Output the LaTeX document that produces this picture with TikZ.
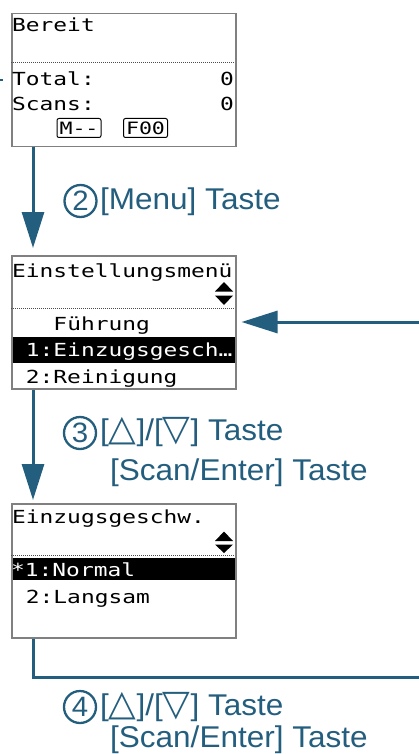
\documentclass[tikz,border=0pt]{standalone}
\usepackage{fontspec}
\setmainfont{Liberation Sans}[FakeStretch=1.05]
\newfontfamily\lcd[FakeStretch=1.27]{DejaVu Sans Mono}
\newfontfamily\symf{DejaVu Sans}
\usetikzlibrary{arrows.meta}
\definecolor{fblue}{RGB}{36,94,126}
\definecolor{lcdgray}{RGB}{128,128,128}
\newcommand{\trisym}[1]{{\symf\fontsize{36}{36}\selectfont #1}}
\begin{document}
\begin{tikzpicture}[x=1pt,y=-1pt,
  lcdbox/.style={rectangle, draw=lcdgray, line width=1.5pt, minimum width=224pt, anchor=north west, inner sep=0pt},
  lcdtxt/.style={anchor=base west, inner sep=0pt, font=\lcd\fontsize{18}{18}\selectfont},
  lcdinv/.style={lcdtxt, text=white},
  btn/.style={rectangle, rounded corners=2pt, draw=black, line width=1pt, minimum width=44pt, minimum height=19pt, inner sep=0pt, font=\lcd\fontsize{17}{17}\selectfont},
  dotsep/.style={draw=black!70, line width=1pt, dash pattern=on 1pt off 1pt},
  conn/.style={draw=fblue, line width=3pt},
  tip/.style={-{Triangle[length=36pt,width=22pt]}},
  circ/.style={circle, draw=fblue, line width=2.3pt, minimum size=32pt, inner sep=0pt, text=fblue, font=\fontsize{28}{28}\selectfont},
  lbl/.style={anchor=base west, inner sep=0pt, text=fblue, font=\fontsize{30}{30}\selectfont}
]
\useasboundingbox (0,0) rectangle (419,754);

% highlight bars
\fill[black] (11,337) rectangle (235,363);
\fill[black] (11,558) rectangle (235,580);

% LCD boxes
\node[lcdbox, minimum height=133pt] (b1) at (11,13) {};
\node[lcdbox, minimum height=133pt] (b2) at (11,255) {};
\node[lcdbox, minimum height=134pt] (b3) at (11,503) {};

% box 1
\node[lcdtxt] (t1a) at (12,32) {Bereit};
\draw[dotsep] (11,63) -- (235,63);
\node[lcdtxt] (t1b) at (12,86) {Total:};
\node[lcdtxt, anchor=base east] (t1c) at (234,86) {0};
\node[lcdtxt] (t1d) at (12,111) {Scans:};
\node[lcdtxt, anchor=base east] (t1e) at (234,111) {0};
\node[btn] (bm) at (79,128) {M-{}-{}};
\node[btn] (bf) at (145.5,128) {F00};

% box 2
\node[lcdtxt] (t2a) at (12,277) {Einstellungsmenü};
\fill (215,291.5) -- (233,291.5) -- (224,282) -- cycle;
\fill (215,295.5) -- (233,295.5) -- (224,305) -- cycle;
\draw[dotsep] (11,308) -- (235,308);
\node[lcdtxt] (t2b) at (12,330) {~~~Führung};
\node[lcdinv] (t2c) at (12,356) {~1:Einzugsgesch…};
\node[lcdtxt] (t2d) at (12,383) {~2:Reinigung};

% box 3
\node[lcdtxt] (t3a) at (12,523) {Einzugsgeschw.};
\fill (215,541) -- (233,541) -- (224,531.5) -- cycle;
\fill (215,544.5) -- (233,544.5) -- (224,553) -- cycle;
\draw[dotsep] (11,555) -- (235,555);
\node[lcdinv] (t3b) at (11,576) {*1:Normal};
\node[lcdtxt] (t3c) at (12,603) {~2:Langsam};

% connectors
\coordinate (stubA) at (0,80);
\coordinate (stubB) at (3,80);
\draw[fblue, line width=2pt] (stubA) -- (stubB);
\draw[conn, tip, shorten >=7pt] ([xshift=22pt]b1.south west) -- ([xshift=22pt]b2.north west);
\draw[conn, tip, shorten >=3pt] ([xshift=22pt]b2.south west) -- ([xshift=22pt]b3.north west);
\coordinate (rin) at (419,322);
\draw[conn, tip, shorten >=5pt] (rin) -- (b2.east |- rin);
\coordinate (rout) at (419,677);
\draw[conn] ([xshift=22pt]b3.south west) |- (rout);

% labels
\node[circ] (c2) at (80.5,201) {2};
\node[lbl] (l2) at (100,209) {[Menu] Taste};
\node[circ] (c3) at (80,433) {3};
\node[lbl] (l3a) at (100,440) {[\trisym{△}]/[\trisym{▽}] Taste};
\node[lbl] (l3b) at (110,480) {[Scan/Enter] Taste};
\node[circ] (c4) at (80,707) {4};
\node[lbl] (l4a) at (100,715) {[\trisym{△}]/[\trisym{▽}] Taste};
\node[lbl] (l4b) at (110,747) {[Scan/Enter] Taste};
\end{tikzpicture}
\end{document}
